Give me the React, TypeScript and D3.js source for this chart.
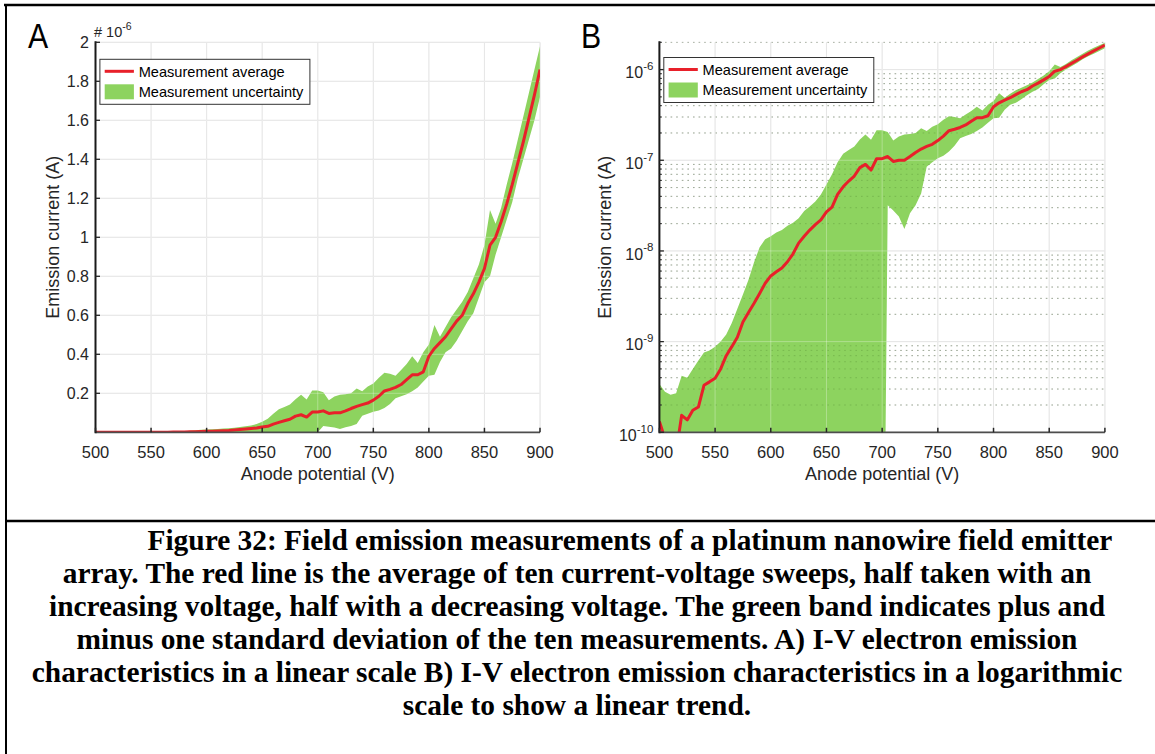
import React from "react";
import * as d3 from "d3";

// ---------- data ----------
const VOLTAGE = [
  500, 505, 510, 515, 520, 525, 530, 535, 540, 545, 550, 555, 560, 565, 570, 575, 580, 585, 590, 595,
  600, 605, 610, 615, 620, 625, 630, 635, 640, 645, 650, 655, 660, 665, 670, 675, 680, 685, 690, 695,
  700, 705, 710, 715, 720, 725, 730, 735, 740, 745, 750, 755, 760, 765, 770, 775, 780, 785, 790, 795,
  800, 805, 810, 815, 820, 825, 830, 835, 840, 845, 850, 855, 860, 865, 870, 875, 880, 885, 890, 895, 900,
];

// average current (A)
const MEAN = [
  1.32e-10, 8.5e-11, 5.0e-11, 6.0e-11, 1.54e-10, 1.37e-10, 1.75e-10, 1.9e-10, 3.3e-10, 3.6e-10,
  3.95e-10, 5.0e-10, 7.0e-10, 8.8e-10, 1.12e-9, 1.65e-9, 2.1e-9, 2.65e-9, 3.4e-9, 4.4e-9,
  5.3e-9, 5.9e-9, 6.5e-9, 7.6e-9, 9.3e-9, 1.22e-8, 1.45e-8, 1.7e-8, 1.95e-8, 2.2e-8,
  2.7e-8, 3.05e-8, 4.2e-8, 5.1e-8, 5.9e-8, 6.7e-8, 8.3e-8, 9.0e-8, 7.8e-8, 1.04e-7,
  1.04e-7, 1.1e-7, 9.7e-8, 1.0e-7, 1.0e-7, 1.1e-7, 1.22e-7, 1.33e-7, 1.42e-7, 1.5e-7,
  1.65e-7, 1.85e-7, 2.12e-7, 2.2e-7, 2.3e-7, 2.45e-7, 2.7e-7, 2.95e-7, 2.95e-7, 3.1e-7,
  3.9e-7, 4.3e-7, 4.6e-7, 4.9e-7, 5.3e-7, 5.7e-7, 6.0e-7, 6.6e-7, 7.1e-7, 7.7e-7,
  8.4e-7, 9.6e-7, 1.0e-6, 1.08e-6, 1.17e-6, 1.27e-6, 1.38e-6, 1.49e-6, 1.61e-6, 1.73e-6, 1.86e-6,
];

// mean + one standard deviation (A)
const UPPER = [
  3.4e-10, 2.8e-10, 2.6e-10, 2.7e-10, 4.2e-10, 4.0e-10, 5.0e-10, 6.2e-10, 7.6e-10, 8.0e-10,
  8.8e-10, 1.0e-9, 1.2e-9, 1.6e-9, 2.3e-9, 3.3e-9, 4.8e-9, 7.5e-9, 1.1e-8, 1.35e-8,
  1.45e-8, 1.6e-8, 1.7e-8, 1.9e-8, 2.05e-8, 2.3e-8, 2.75e-8, 3.1e-8, 3.5e-8, 4.2e-8,
  5.4e-8, 7.0e-8, 9.5e-8, 1.18e-7, 1.3e-7, 1.42e-7, 1.7e-7, 1.92e-7, 1.68e-7, 2.15e-7,
  2.15e-7, 2.05e-7, 1.65e-7, 1.83e-7, 1.92e-7, 1.95e-7, 2.0e-7, 2.25e-7, 2.1e-7, 2.35e-7,
  2.5e-7, 2.8e-7, 3.05e-7, 3.0e-7, 2.9e-7, 3.2e-7, 3.5e-7, 3.9e-7, 3.55e-7, 4.1e-7,
  4.5e-7, 5.5e-7, 4.9e-7, 5.4e-7, 5.9e-7, 6.3e-7, 6.7e-7, 7.2e-7, 7.9e-7, 8.6e-7,
  9.6e-7, 1.14e-6, 1.07e-6, 1.15e-6, 1.27e-6, 1.38e-6, 1.5e-6, 1.62e-6, 1.74e-6, 1.86e-6, 1.98e-6,
];

// mean - one standard deviation (A); 0 where it falls below zero
const LOWER = [
  0, 0, 0, 0, 0, 0, 0, 0, 0, 0,
  0, 0, 0, 0, 0, 0, 0, 0, 0, 0,
  0, 0, 0, 0, 0, 0, 0, 0, 0, 0,
  0, 0, 0, 0, 0, 0, 0, 0, 0, 0,
  0, 3.2e-8, 2.8e-8, 2.4e-8, 1.75e-8, 2.6e-8, 3.2e-8, 4.3e-8, 8.5e-8, 9.5e-8,
  1.05e-7, 1.12e-7, 1.25e-7, 1.45e-7, 1.75e-7, 1.85e-7, 1.95e-7, 2.1e-7, 2.3e-7, 2.6e-7,
  2.9e-7, 2.95e-7, 3.6e-7, 4.1e-7, 4.3e-7, 4.7e-7, 5.2e-7, 5.7e-7, 6.1e-7, 6.9e-7,
  7.7e-7, 8.0e-7, 9.1e-7, 1.0e-6, 1.09e-6, 1.18e-6, 1.3e-6, 1.4e-6, 1.5e-6, 1.6e-6, 1.72e-6,
];

const X_TICKS = [500, 550, 600, 650, 700, 750, 800, 850, 900];
const LIN_TICKS = [0.2e-6, 0.4e-6, 0.6e-6, 0.8e-6, 1.0e-6, 1.2e-6, 1.4e-6, 1.6e-6, 1.8e-6, 2.0e-6];
const LIN_TICK_LABELS = ["0.2", "0.4", "0.6", "0.8", "1", "1.2", "1.4", "1.6", "1.8", "2"];
const LOG_EXPONENTS = [-10, -9, -8, -7, -6];
const LEGEND_LABELS = ["Measurement average", "Measurement uncertainty"];
const X_LABEL = "Anode potential (V)";
const Y_LABEL = "Emission current (A)";
const CAPTION = [
  "Figure 32: Field emission measurements of a platinum nanowire field emitter",
  "array. The red line is the average of ten current-voltage sweeps, half taken with an",
  "increasing voltage, half with a decreasing voltage. The green band indicates plus and",
  "minus one standard deviation of the ten measurements. A) I-V electron emission",
  "characteristics in a linear scale B) I-V electron emission characteristics in a logarithmic",
  "scale to show a linear trend.",
];

// ---------- style ----------
const W = 1155;
const H = 754;
const RED = "#e8202a";
const GREEN = "#8dd35f";
const SANS = "'Liberation Sans', Arial, Helvetica, sans-serif";
const SERIF = "'Liberation Serif', 'Times New Roman', serif";
const PLOT_TOP = 42.3;
const PLOT_BOTTOM = 432.3;

type PanelProps = {
  id: string;
  isLog: boolean;
  x0: number;
  x1: number;
  legendTop: number;
  yLabelX: number;
};

function Panel({ id, isLog, x0, x1, legendTop, yLabelX }: PanelProps) {
  const x = d3.scaleLinear().domain([500, 900]).range([x0, x1]);
  const yLin = d3.scaleLinear().domain([0, 2e-6]).range([PLOT_BOTTOM, PLOT_TOP]);
  const yLog = d3.scaleLog().domain([1e-10, 2e-6]).range([PLOT_BOTTOM, PLOT_TOP]);
  const yv = (v: number) => (isLog ? yLog(v > 0 ? v : 1e-14) : yLin(v));

  const area = d3
    .area<number>()
    .x((_, i) => x(VOLTAGE[i]))
    .y0((_, i) => yv(LOWER[i]))
    .y1((_, i) => yv(UPPER[i]));
  const line = d3
    .line<number>()
    .x((_, i) => x(VOLTAGE[i]))
    .y((d) => yv(d));

  const majorY: number[] = isLog ? LOG_EXPONENTS.map((e) => yLog(Math.pow(10, e))) : LIN_TICKS.map((v) => yLin(v));
  const minorY: number[] = [];
  if (isLog) {
    LOG_EXPONENTS.forEach((e) => {
      for (let m = 2; m <= 9; m++) {
        const v = m * Math.pow(10, e);
        if (v <= 2.0001e-6) minorY.push(yLog(v));
      }
    });
  }

  const clipId = `clip-${id}`;
  const legX = x0 + 4.4;
  const cx = (x0 + x1) / 2;

  const gridLines = (overlay: boolean) => (
    <g>
      {isLog &&
        minorY.map((yy, i) => (
          <line
            key={`mn${i}`}
            x1={x0}
            x2={x1}
            y1={yy}
            y2={yy}
            stroke={overlay ? "#3a6b20" : "#bdbdbd"}
            strokeOpacity={overlay ? 0.25 : 1}
            strokeWidth={1}
            strokeDasharray="1.6,4"
          />
        ))}
      {X_TICKS.map((t) => (
        <line
          key={`gx${t}`}
          x1={x(t)}
          x2={x(t)}
          y1={PLOT_TOP}
          y2={PLOT_BOTTOM}
          stroke={overlay ? "#ffffff" : "#dcdcdc"}
          strokeOpacity={overlay ? 0.3 : 1}
          strokeWidth={1}
        />
      ))}
      {majorY.map((yy, i) => (
        <line
          key={`gy${i}`}
          x1={x0}
          x2={x1}
          y1={yy}
          y2={yy}
          stroke={overlay ? "#ffffff" : "#dcdcdc"}
          strokeOpacity={overlay ? 0.3 : 1}
          strokeWidth={1}
        />
      ))}
    </g>
  );

  return (
    <g>
      <defs>
        <clipPath id={clipId}>
          <rect x={x0} y={PLOT_TOP} width={x1 - x0} height={PLOT_BOTTOM - PLOT_TOP} />
        </clipPath>
      </defs>
      {gridLines(false)}
      <g clipPath={`url(#${clipId})`}>
        <path d={area(MEAN) || ""} fill={GREEN} stroke="none" />
        {gridLines(true)}
        <path d={line(MEAN) || ""} fill="none" stroke={RED} strokeWidth={3} strokeLinejoin="round" />
      </g>

      {/* axes */}
      <line x1={x0} x2={x1} y1={PLOT_BOTTOM} y2={PLOT_BOTTOM} stroke="#4d4d4d" strokeWidth={1.8} />
      <line x1={x0} x2={x0} y1={PLOT_TOP - 1} y2={PLOT_BOTTOM + 1} stroke="#1a1a1a" strokeWidth={2} />
      {X_TICKS.map((t) => (
        <g key={`xt${t}`}>
          <line x1={x(t)} x2={x(t)} y1={PLOT_BOTTOM} y2={PLOT_BOTTOM - 4.5} stroke="#262626" strokeWidth={1.5} />
          <text x={x(t)} y={458} textAnchor="middle" fontFamily={SANS} fontSize={16.5} fill="#262626">
            {t}
          </text>
        </g>
      ))}
      {majorY.map((yy, i) => (
        <line key={`yt${i}`} x1={x0} x2={x0 + 4.5} y1={yy} y2={yy} stroke="#262626" strokeWidth={1.3} />
      ))}
      {isLog &&
        minorY.map((yy, i) => (
          <line key={`ymt${i}`} x1={x0} x2={x0 + 2.5} y1={yy} y2={yy} stroke="#262626" strokeWidth={1} />
        ))}

      {/* y tick labels */}
      {!isLog &&
        LIN_TICKS.map((v, i) => (
          <text
            key={`yl${i}`}
            x={x0 - 6.5}
            y={yLin(v) + 5.8}
            textAnchor="end"
            fontFamily={SANS}
            fontSize={16}
            fill="#262626"
          >
            {LIN_TICK_LABELS[i]}
          </text>
        ))}
      {isLog &&
        LOG_EXPONENTS.map((e) => (
          <text
            key={`yl${e}`}
            x={x0 - 6}
            y={yLog(Math.pow(10, e)) + 8.8}
            textAnchor="end"
            fontFamily={SANS}
            fontSize={16}
            fill="#262626"
          >
            10
            <tspan dy={-8.5} fontSize={11.5}>
              {String(e)}
            </tspan>
          </text>
        ))}
      {!isLog && (
        <text x={x0 - 1.5} y={37} fontFamily={SANS} fontSize={14.5} fill="#262626">
          # 10
          <tspan dy={-7.5} fontSize={10.5}>
            -6
          </tspan>
        </text>
      )}

      {/* axis labels */}
      <text x={cx} y={480} textAnchor="middle" fontFamily={SANS} fontSize={18} fill="#262626">
        {X_LABEL}
      </text>
      <text
        transform={`translate(${yLabelX + 6.5},${(PLOT_TOP + PLOT_BOTTOM) / 2}) rotate(-90)`}
        textAnchor="middle"
        fontFamily={SANS}
        fontSize={18}
        fill="#262626"
      >
        {Y_LABEL}
      </text>

      {/* legend */}
      <rect x={legX} y={legendTop} width={210} height={45} fill="#ffffff" stroke="#333333" strokeWidth={1} />
      <line x1={legX + 4.8} x2={legX + 34} y1={legendTop + 12} y2={legendTop + 12} stroke={RED} strokeWidth={3} />
      <rect x={legX + 4.8} y={legendTop + 25} width={29.2} height={15} fill={GREEN} />
      <text x={legX + 38.8} y={legendTop + 17.6} fontFamily={SANS} fontSize={14.6} fill="#000">
        {LEGEND_LABELS[0]}
      </text>
      <text x={legX + 38.8} y={legendTop + 37.6} fontFamily={SANS} fontSize={14.6} fill="#000">
        {LEGEND_LABELS[1]}
      </text>
    </g>
  );
}

export default function App() {
  const captionTop = 550;
  const lineGap = 32.9;
  return (
    <svg
      width={W}
      height={H}
      viewBox={`0 0 ${W} ${H}`}
      style={{ position: "absolute", left: 0, top: 0, background: "#ffffff" }}
    >
      <rect x={0} y={0} width={W} height={H} fill="#ffffff" />
      {/* table borders */}
      <line x1={4} x2={W} y1={5} y2={5} stroke="#000" strokeWidth={2.6} />
      <line x1={6} x2={6} y1={4} y2={H} stroke="#000" strokeWidth={2} />
      <line x1={5} x2={W} y1={521} y2={521} stroke="#000" strokeWidth={2.4} />

      {/* panel letters */}
      <text transform="translate(28,48) scale(0.84,1)" fontFamily={SANS} fontSize={36} fill="#000">
        A
      </text>
      <text transform="translate(581,48) scale(0.84,1)" fontFamily={SANS} fontSize={36} fill="#000">
        B
      </text>

      <Panel id="a" isLog={false} x0={95.5} x1={540} legendTop={59.3} yLabelX={52} />
      <Panel id="b" isLog={true} x0={659.4} x1={1104.9} legendTop={57.5} yLabelX={604} />

      {/* caption */}
      {CAPTION.map((s, i) =>
        i === 0 ? (
          <text
            key={i}
            x={147.5}
            y={captionTop}
            fontFamily={SERIF}
            fontWeight="bold"
            fontSize={29.4}
            fill="#000"
          >
            {s}
          </text>
        ) : (
          <text
            key={i}
            x={577}
            y={captionTop + i * lineGap}
            textAnchor="middle"
            fontFamily={SERIF}
            fontWeight="bold"
            fontSize={29.4}
            fill="#000"
          >
            {s}
          </text>
        )
      )}
    </svg>
  );
}
